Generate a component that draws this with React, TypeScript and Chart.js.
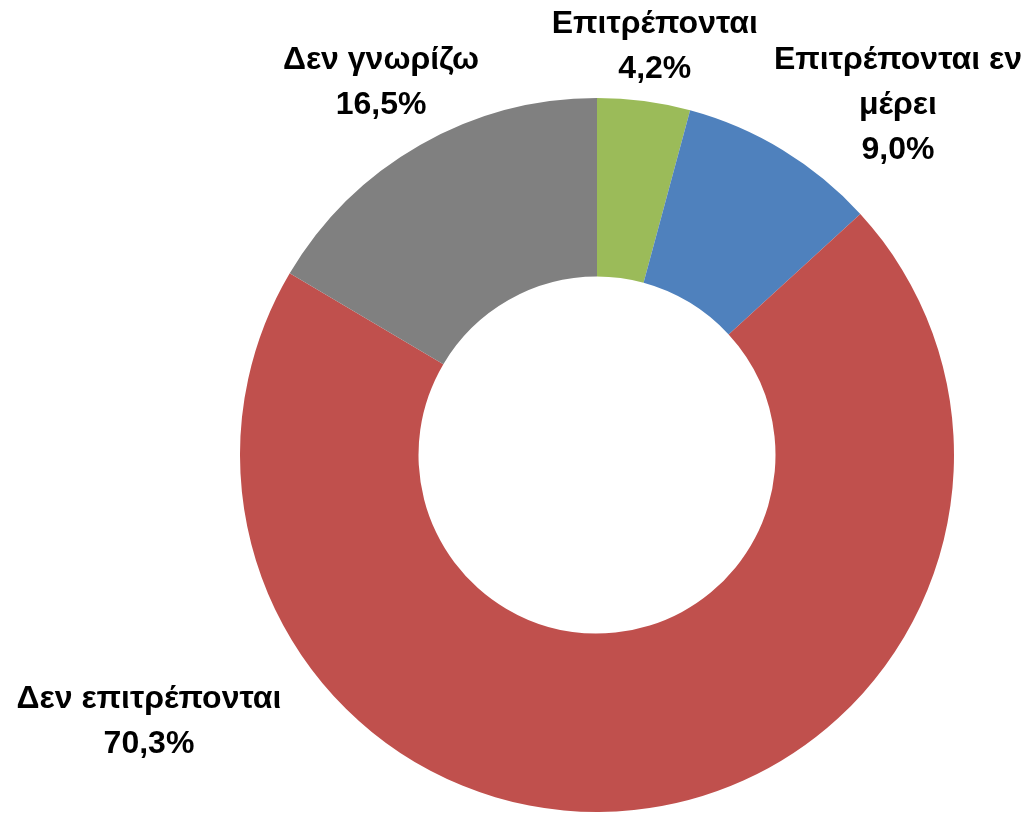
import React, { useEffect, useRef } from "react";
import { Chart, registerables } from "chart.js";

Chart.register(...registerables);

const categories: string[][] = [
  ["Επιτρέπονται"],
  ["Επιτρέπονται εν", "μέρει"],
  ["Δεν επιτρέπονται"],
  ["Δεν γνωρίζω"],
];
const values: number[] = [4.2, 9.0, 70.3, 16.5];
const colors: string[] = ["#9BBB59", "#4F81BD", "#C0504D", "#808080"];

const formatPct = (v: number) => v.toFixed(1).replace(".", ",") + "%";

const labelPlugin = {
  id: "outerLabels",
  afterDraw(chart: any, _args: any, opts: any) {
    const meta = chart.getDatasetMeta(0);
    const ctx = chart.ctx;
    const anchors: number[][] = opts.anchors;
    ctx.save();
    ctx.font = opts.font;
    ctx.fillStyle = opts.color;
    ctx.textAlign = "center";
    ctx.textBaseline = "middle";
    meta.data.forEach((arc: any, i: number) => {
      const { x, y, outerRadius } = arc.getProps(["x", "y", "outerRadius"], true);
      const lines = [...categories[i], formatPct(values[i])];
      const cx = x + anchors[i][0] * outerRadius;
      const cy = y + anchors[i][1] * outerRadius;
      const lh = opts.lineHeight;
      const startY = cy - ((lines.length - 1) * lh) / 2;
      lines.forEach((t, j) => ctx.fillText(t, cx, startY + j * lh));
    });
    ctx.restore();
  },
};

export default function App() {
  const ref = useRef<HTMLCanvasElement>(null);
  useEffect(() => {
    if (!ref.current) return;
    const chart = new Chart(ref.current, {
      type: "doughnut",
      data: {
        labels: categories.map((c) => c.join(" ")),
        datasets: [
          {
            data: values,
            backgroundColor: colors,
            borderWidth: 0,
          },
        ],
      },
      options: {
        animation: false,
        responsive: false,
        cutout: "50%",
        layout: { padding: { left: 240, right: 71, top: 98, bottom: 5 } },
        plugins: {
          legend: { display: false },
          tooltip: { enabled: false },
          outerLabels: {
            font: "bold 32px 'Liberation Sans', sans-serif",
            color: "#000000",
            lineHeight: 45,
            anchors: [
              [0.162, -1.143],
              [0.843, -0.98],
              [-1.255, 0.748],
              [-0.605, -1.042],
            ],
          },
        } as any,
      },
      plugins: [labelPlugin],
    });
    return () => chart.destroy();
  }, []);
  return (
    <div style={{ position: "absolute", left: 0, top: 0, width: 1025, height: 817, background: "#fff" }}>
      <canvas ref={ref} width={1025} height={817} style={{ display: "block" }} />
    </div>
  );
}
